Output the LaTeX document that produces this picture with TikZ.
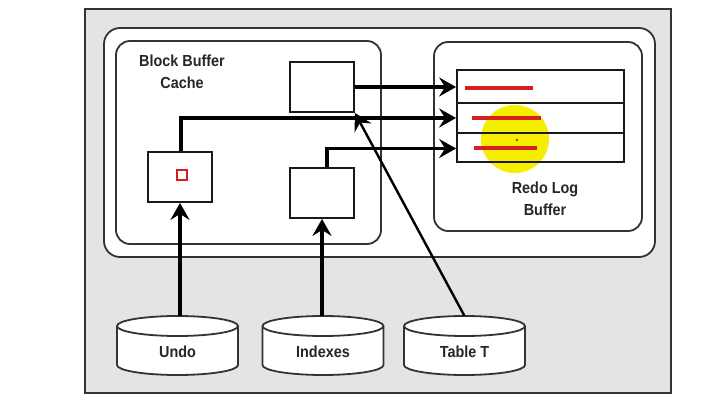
\documentclass[tikz,border=0pt]{standalone}
\usepackage{fontspec}
\setmainfont{Liberation Sans}[FakeStretch=0.9]
\usetikzlibrary{arrows.meta}
\definecolor{bggray}{HTML}{E4E4E4}
\definecolor{linegray}{HTML}{333333}
\definecolor{hiyellow}{HTML}{F5EE00}
\definecolor{redline}{HTML}{D61F1F}
\definecolor{dotcol}{HTML}{A03010}
\tikzset{
  frame/.style={draw=linegray, line width=1.8pt},
  panel/.style={frame, fill=white, rounded corners=14pt, inner sep=0pt},
  cellbox/.style={draw=black!90, line width=1.8pt, fill=white, minimum width=64pt, minimum height=50pt, inner sep=0pt},
  rowbox/.style={draw=black!90, line width=1.8pt, minimum width=167pt, inner sep=0pt},
  flow/.style={line width=3.2pt, -{Stealth[length=17pt,width=19pt,inset=6pt]}},
  lbl/.style={font=\bfseries\fontsize{16}{22}\selectfont, text=black!85, align=center},
  redmark/.style={draw=redline, line width=3.4pt}
}
\newcommand\dbcyl[3]{%
  \filldraw[frame, fill=white] (#2-60.5,89) -- (#2-60.5,50)
    arc[start angle=180, end angle=360, x radius=60.5pt, y radius=10pt]
    -- (#2+60.5,89)
    arc[start angle=0, end angle=180, x radius=60.5pt, y radius=10pt] -- cycle;
  \draw[frame] (#2-60.5,89)
    arc[start angle=180, end angle=360, x radius=60.5pt, y radius=10pt];
  \node[lbl] (#1) at (#2,63) {#3};
  \coordinate (#1top) at (#2,99);
}
\begin{document}
\begin{tikzpicture}[x=1pt,y=1pt]
\useasboundingbox (0,0) rectangle (727,415);
% outer gray frame
\filldraw[frame, fill=bggray] (85,22) rectangle (671,406);
% panels
\node[panel, minimum width=551pt, minimum height=229pt, rounded corners=16pt] (sga) at (379.5,272.5) {};
\node[panel, minimum width=265pt, minimum height=203pt] (bbc) at (248.5,272.5) {};
\node[panel, minimum width=208pt, minimum height=189pt] (redo) at (538,278.5) {};
% highlight
\fill[hiyellow] (515,276) circle (34pt);
% redo log rows
\node[rowbox, minimum height=33pt] (row1) at (540.5,328.5) {};
\node[rowbox, minimum height=30pt] (row2) at (540.5,297) {};
\node[rowbox, minimum height=29pt] (row3) at (540.5,267.5) {};
\draw[redmark] (465,327) -- (533,327);
\draw[redmark] (472,297) -- (541,297);
\draw[redmark] (474,267) -- (537,267);
\fill[dotcol] (517,275) circle (1.4pt);
% labels
\node[lbl] (bbclabel) at (182,343) {Block Buffer\\Cache};
\node[lbl] (redolabel) at (545,216.5) {Redo Log\\Buffer};
% blocks
\node[cellbox] (tb) at (322,328) {};
\node[cellbox] (lb) at (180,238) {};
\node[cellbox] (mb) at (322,222) {};
\node[draw=redline, line width=2.4pt, minimum size=10pt, inner sep=0pt] (rsq) at (182,240) {};
% disks
\dbcyl{undo}{177.5}{Undo}
\dbcyl{idx}{323}{Indexes}
\dbcyl{tabt}{464.5}{Table T}
% flows
\draw[flow] (tb.east) -- (tb.east -| row1.west);
\draw[flow] ([xshift=1pt]lb.north) |- (row2.west);
\draw[flow] ([xshift=5pt]mb.north) |- ([yshift=-1pt]row3.west);
\draw[flow] (lb.south |- undotop) -- (lb.south);
\draw[flow] (mb.south |- idxtop) -- (mb.south);
\draw[flow, line width=2.4pt] (tabttop) -- (tb.south east);
\end{tikzpicture}
\end{document}
